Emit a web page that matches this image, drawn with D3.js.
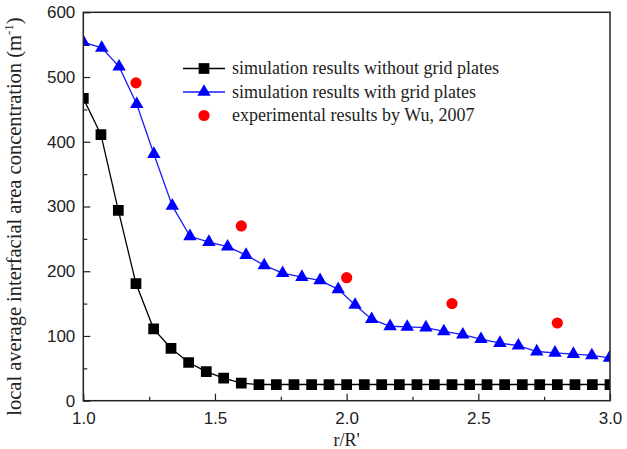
<!DOCTYPE html>
<html>
<head>
<meta charset="utf-8">
<script src="https://cdn.jsdelivr.net/npm/d3@7"></script>
<style>
  body { margin: 0; background: #fff; }
  svg { display: block; }
</style>
</head>
<body>
<script>
// values
var xNoGrid = [1.0, 1.067, 1.133, 1.2, 1.267, 1.333, 1.4, 1.467, 1.533, 1.6, 1.667, 1.733, 1.8, 1.867, 1.933,
               2.0, 2.067, 2.133, 2.2, 2.267, 2.333, 2.4, 2.467, 2.533, 2.6, 2.667, 2.733, 2.8, 2.867, 2.933, 3.0];
var yNoGrid = [467, 411, 294, 181, 111, 81, 59, 45, 35, 27, 25, 25, 25, 25, 25,
               25, 25, 25, 25, 25, 25, 25, 25, 25, 25, 25, 25, 25, 25, 25, 25];

var xGrid = [1.0, 1.070, 1.136, 1.203, 1.268, 1.338, 1.405, 1.477, 1.548, 1.618, 1.687, 1.757, 1.830, 1.899, 1.968,
             2.032, 2.095, 2.165, 2.230, 2.301, 2.369, 2.441, 2.510, 2.582, 2.652, 2.722, 2.791, 2.861, 2.931, 2.998];
var yGrid = [554, 545, 516, 458, 381, 301, 254, 245, 238, 225, 209, 197, 191, 186, 172,
             148, 126, 115, 114, 113, 107, 102, 95, 89, 85, 76, 74, 72, 70, 66];

var xExp = [1.2, 1.6, 2.0, 2.4, 2.8];
var yExp = [491, 270, 190, 150, 120];

var xTicks = [1.0, 1.5, 2.0, 2.5, 3.0];
var xMinor = [1.25, 1.75, 2.25, 2.75];
var yTicks = [0, 100, 200, 300, 400, 500, 600];
var yMinor = [50, 150, 250, 350, 450, 550];

var legendNames = ["simulation results without grid plates",
                   "simulation results with grid plates",
                   "experimental results by Wu, 2007"];

function init() {
    var w = 627, h = 449;
    var margin = {left: 83.3, right: 17, top: 12.3, bottom: 48.3};

    var svg = d3.select("body").append("svg")
        .attr("width", w)
        .attr("height", h);

    var x = d3.scaleLinear().domain([1, 3]).range([margin.left, w - margin.right]);
    var y = d3.scaleLinear().domain([0, 600]).range([h - margin.bottom, margin.top]);

    var ink = "#222";

    // clip markers to the plot box
    svg.append("clipPath").attr("id", "plotclip")
        .append("rect")
        .attr("x", x(1)).attr("y", y(600))
        .attr("width", x(3) - x(1)).attr("height", y(0) - y(600));

    var plot = svg.append("g").attr("clip-path", "url(#plotclip)");

    var noGrid = xNoGrid.map(function(d, i) { return [d, yNoGrid[i]]; });
    var grid = xGrid.map(function(d, i) { return [d, yGrid[i]]; });
    var exp = xExp.map(function(d, i) { return [d, yExp[i]]; });

    var line = d3.line()
        .x(function(d) { return x(d[0]); })
        .y(function(d) { return y(d[1]); });

    plot.append("path").datum(noGrid)
        .attr("d", line).attr("fill", "none")
        .attr("stroke", "#000").attr("stroke-width", 1.3);

    plot.append("path").datum(grid)
        .attr("d", line).attr("fill", "none")
        .attr("stroke", "#1a1aff").attr("stroke-width", 1.3);

    var sq = d3.symbol().type(d3.symbolSquare).size(115);
    var tri = d3.symbol().type(d3.symbolTriangle).size(78);

    plot.selectAll(".sq").data(noGrid).enter().append("path")
        .attr("class", "sq")
        .attr("d", sq)
        .attr("transform", function(d) { return "translate(" + x(d[0]) + "," + y(d[1]) + ")"; })
        .attr("fill", "#000");

    plot.selectAll(".tri").data(grid).enter().append("path")
        .attr("class", "tri")
        .attr("d", tri)
        .attr("transform", function(d) { return "translate(" + x(d[0]) + "," + y(d[1]) + ")"; })
        .attr("fill", "#0000ff");

    plot.selectAll(".dot").data(exp).enter().append("circle")
        .attr("class", "dot")
        .attr("cx", function(d) { return x(d[0]); })
        .attr("cy", function(d) { return y(d[1]); })
        .attr("r", 5.6)
        .attr("fill", "#ff0000");

    // axes, ticks pointing inward
    svg.append("g")
        .attr("transform", "translate(0," + y(0) + ")")
        .call(d3.axisBottom(x).tickValues(xTicks).tickSize(-7).tickPadding(11)
              .tickFormat(d3.format(".1f")));
    svg.append("g")
        .attr("transform", "translate(0," + y(0) + ")")
        .call(d3.axisBottom(x).tickValues(xMinor).tickSize(-4).tickFormat(""));

    svg.append("g")
        .attr("transform", "translate(" + x(1) + ",0)")
        .call(d3.axisLeft(y).tickValues(yTicks).tickSize(-7).tickPadding(8));
    svg.append("g")
        .attr("transform", "translate(" + x(1) + ",0)")
        .call(d3.axisLeft(y).tickValues(yMinor).tickSize(-4).tickFormat(""));

    svg.selectAll(".domain").remove();
    svg.selectAll(".tick line").attr("stroke", ink).attr("stroke-width", 1.2);
    svg.selectAll(".tick text")
        .attr("fill", ink)
        .style("font-family", "'Liberation Sans', Arial, sans-serif")
        .style("font-size", "17px");

    // frame
    svg.append("rect")
        .attr("x", x(1)).attr("y", y(600))
        .attr("width", x(3) - x(1)).attr("height", y(0) - y(600))
        .attr("fill", "none").attr("stroke", ink).attr("stroke-width", 1.5);

    // axis titles
    var serif = "'Liberation Serif', 'Times New Roman', serif";
    svg.append("text")
        .attr("x", x(2)).attr("y", 446)
        .attr("text-anchor", "middle")
        .style("font-family", serif).style("font-size", "18px")
        .attr("fill", ink)
        .text("r/R'");

    var ylab = svg.append("text")
        .attr("transform", "translate(21," + ((y(0) + y(600)) / 2 + 10) + ") rotate(-90)")
        .attr("text-anchor", "middle")
        .style("font-family", serif).style("font-size", "20.5px")
        .attr("fill", ink);
    ylab.append("tspan").text("local average interfacial area concentration (m");
    ylab.append("tspan").attr("dy", -8).style("font-size", "13px").text("-1");
    ylab.append("tspan").attr("dy", 8).text(")");

    // legend
    var legend = svg.append("g");
    var rowY = [68.5, 92, 115.5];
    var lx0 = 183, lx1 = 225, lxm = 204, tx = 232;

    legend.append("line").attr("x1", lx0).attr("x2", lx1).attr("y1", rowY[0]).attr("y2", rowY[0])
        .attr("stroke", "#000").attr("stroke-width", 1.3);
    legend.append("path").attr("d", sq).attr("transform", "translate(" + lxm + "," + rowY[0] + ")").attr("fill", "#000");

    legend.append("line").attr("x1", lx0).attr("x2", lx1).attr("y1", rowY[1]).attr("y2", rowY[1])
        .attr("stroke", "#1a1aff").attr("stroke-width", 1.3);
    legend.append("path").attr("d", tri).attr("transform", "translate(" + lxm + "," + rowY[1] + ")").attr("fill", "#0000ff");

    legend.append("circle").attr("cx", lxm).attr("cy", rowY[2]).attr("r", 5.6).attr("fill", "#ff0000");

    legend.selectAll(".ltext").data(legendNames).enter().append("text")
        .attr("class", "ltext")
        .attr("x", tx)
        .attr("y", function(d, i) { return rowY[i] + 5.5; })
        .style("font-family", serif).style("font-size", "18px")
        .attr("fill", ink)
        .text(function(d) { return d; });
}
window.onload = init;
</script>
</body>
</html>
